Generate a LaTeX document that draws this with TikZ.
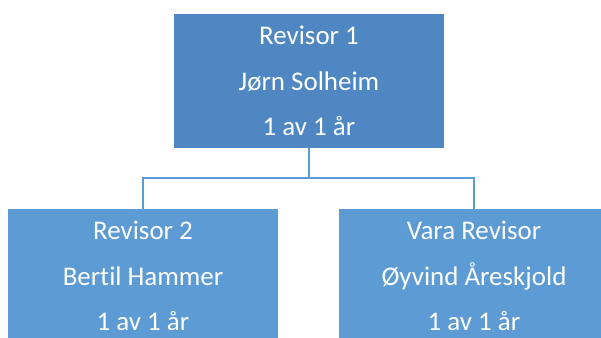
\documentclass[tikz,border=0pt]{standalone}
\usepackage{fontspec}
\setmainfont{Carlito}[Ligatures=NoCommon]
\usepackage{tikz}
\usetikzlibrary{positioning,calc}

\definecolor{headblue}{RGB}{79,135,194}
\definecolor{memberblue}{RGB}{93,155,213}

\tikzset{
    role/.style={rectangle, inner sep=0pt, minimum width=8.1cm, minimum height=4.02cm,
        text=white, align=center, font=\fontsize{23}{39}\selectfont},
    link/.style={draw=memberblue, line width=2pt}
}

\begin{document}
\begin{tikzpicture}
    \useasboundingbox (0,0) rectangle (18.03,-10.14);

    % Boxes
    \node[role, fill=headblue] (head) at (9.27,-2.43) {Revisor 1\\Jørn Solheim\\1 av 1 år};
    \node[role, fill=memberblue] (second) at (4.29,-8.28) {Revisor 2\\Bertil Hammer\\1 av 1 år};
    \node[role, fill=memberblue] (deputy) at (14.22,-8.28) {Vara Revisor\\Øyvind Åreskjold\\1 av 1 år};

    % Connectors
    \coordinate (bus) at (0,-5.34);
    \draw[link] (head.south) -- (head.south |- bus);
    \draw[link] (second.north) |- (bus -| deputy.north) -- (deputy.north);
\end{tikzpicture}
\end{document}
